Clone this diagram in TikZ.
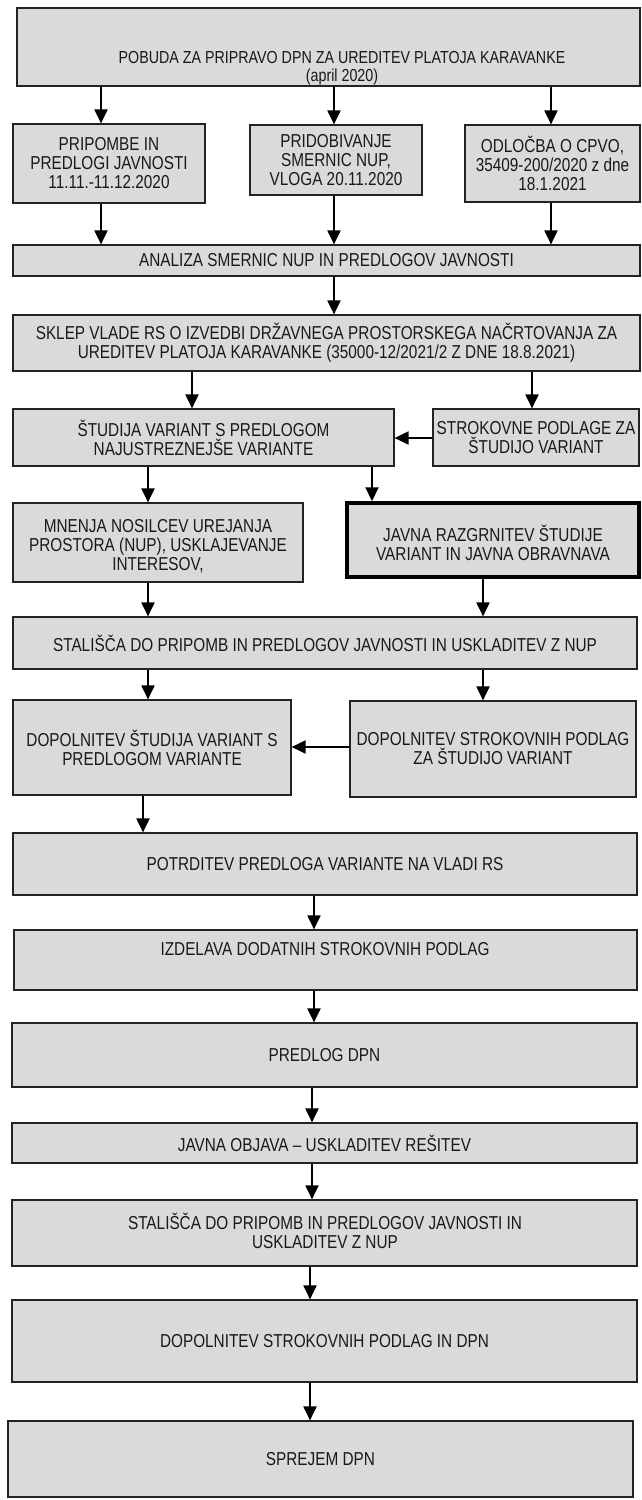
\documentclass[tikz,border=0pt]{standalone}
\usepackage{fontspec}
\setmainfont[FakeStretch=0.82]{Liberation Sans}
\usetikzlibrary{arrows.meta}
\definecolor{boxfill}{RGB}{218,218,218}
\definecolor{boxline}{RGB}{35,35,35}
\tikzset{
  box/.style={draw=boxline, fill=boxfill, line width=1.2pt, inner sep=0pt, rectangle},
  thickbox/.style={line width=3.5pt, draw=black},
  txt/.style={font=\fontsize{18.7}{19}\selectfont, align=center, inner sep=0pt, text=black!90},
  toptxt/.style={txt, font=\fontsize{17.4}{17.5}\selectfont},
  arr/.style={line width=2pt, -{Triangle[length=14pt,width=13pt]}},
}
\newcommand{\bx}[6][]{%
  \pgfmathsetmacro\bxcx{(#3+#5)/2}%
  \pgfmathsetmacro\bxcy{(#4+#6)/2}%
  \pgfmathsetmacro\bxw{#5-#3}%
  \pgfmathsetmacro\bxh{#6-#4}%
  \node[box,#1,minimum width=\bxw pt,minimum height=\bxh pt] (#2) at (\bxcx,\bxcy) {};%
}
\begin{document}
\begin{tikzpicture}[x=1pt,y=-1pt]
\useasboundingbox (0,0) rectangle (642,1500);
% boxes
\bx{top}{17}{8}{640}{86}
\bx{b1}{13}{124}{205}{203}
\bx{b2}{250}{125}{422}{195}
\bx{b3}{465}{125}{640}{202}
\bx{analiza}{13}{245}{640}{276}
\bx{sklep}{13}{315}{640}{371}
\bx{studija}{13}{409}{394}{466}
\bx{strok}{433}{409}{639}{466}
\bx{mnenja}{13}{503}{303}{582}
\bx[thickbox]{javna}{347}{503}{639}{577}
\bx{stal1}{13}{617}{637}{669}
\bx{dopL}{13}{700}{291}{795}
\bx{dopR}{350}{701}{636}{797}
\bx{potrd}{13}{833}{637}{895}
\bx{izdel}{14}{930}{637}{990}
\bx{predlog}{12}{1023}{637}{1087}
\bx{objava}{12}{1123}{637}{1163}
\bx{stal2}{12}{1200}{637}{1266}
\bx{dop2}{12}{1300}{637}{1382}
\bx{sprejem}{8}{1421}{633}{1497}
% texts
\node[toptxt] (t-top) at (342,68) {POBUDA ZA PRIPRAVO DPN ZA UREDITEV PLATOJA KARAVANKE\\(april 2020)};
\node[txt] (t-b1) at (b1.center) {PRIPOMBE IN\\PREDLOGI JAVNOSTI\\11.11.-11.12.2020};
\node[txt] (t-b2) at (b2.center) {PRIDOBIVANJE\\SMERNIC NUP,\\VLOGA 20.11.2020};
\node[txt] (t-b3) at (b3.center) {ODLOČBA O CPVO,\\35409-200/2020 z dne\\18.1.2021};
\node[txt] (t-analiza) at (analiza.center) {ANALIZA SMERNIC NUP IN PREDLOGOV JAVNOSTI};
\node[txt] (t-sklep) at (sklep.center) {SKLEP VLADE RS O IZVEDBI DRŽAVNEGA PROSTORSKEGA NAČRTOVANJA ZA\\UREDITEV PLATOJA KARAVANKE (35000-12/2021/2 Z DNE 18.8.2021)};
\node[txt] (t-studija) at (studija.center) {ŠTUDIJA VARIANT S PREDLOGOM\\NAJUSTREZNEJŠE VARIANTE};
\node[txt] (t-strok) at (strok.center) {STROKOVNE PODLAGE ZA\\ŠTUDIJO VARIANT};
\node[txt] (t-mnenja) at ([yshift=-4pt]mnenja.center) {MNENJA NOSILCEV UREJANJA\\PROSTORA (NUP), USKLAJEVANJE\\INTERESOV,};
\node[txt] (t-javna) at ([yshift=-3pt]javna.center) {JAVNA RAZGRNITEV ŠTUDIJE\\VARIANT IN JAVNA OBRAVNAVA};
\node[txt] (t-stal1) at (stal1.center) {STALIŠČA DO PRIPOMB IN PREDLOGOV JAVNOSTI IN USKLADITEV Z NUP};
\node[txt] (t-dopL) at (dopL.center) {DOPOLNITEV ŠTUDIJA VARIANT S\\PREDLOGOM VARIANTE};
\node[txt] (t-dopR) at (dopR.center) {DOPOLNITEV STROKOVNIH PODLAG\\ZA ŠTUDIJO VARIANT};
\node[txt] (t-potrd) at (potrd.center) {POTRDITEV PREDLOGA VARIANTE NA VLADI RS};
\node[txt] (t-izdel) at (325,949) {IZDELAVA DODATNIH STROKOVNIH PODLAG};
\node[txt] (t-predlog) at (predlog.center) {PREDLOG DPN};
\node[txt] (t-objava) at (objava.center) {JAVNA OBJAVA – USKLADITEV REŠITEV};
\node[txt] (t-stal2) at (325,1231) {STALIŠČA DO PRIPOMB IN PREDLOGOV JAVNOSTI IN\\USKLADITEV Z NUP};
\node[txt] (t-dop2) at (dop2.center) {DOPOLNITEV STROKOVNIH PODLAG IN DPN};
\node[txt] (t-sprejem) at (sprejem.center) {SPREJEM DPN};
% arrow columns
\coordinate (c100) at (101,0);
\coordinate (c334) at (334,0);
\coordinate (c551) at (551,0);
\coordinate (c192) at (192,0);
\coordinate (c532) at (532,0);
\coordinate (c148) at (148,0);
\coordinate (c372) at (372,0);
\coordinate (c483) at (483,0);
\coordinate (c143) at (143,0);
\coordinate (c314) at (314,0);
\coordinate (c312) at (312,0);
\coordinate (c310) at (310,0);
\coordinate (r438) at (0,438);
\coordinate (r747) at (0,747);
% arrows
\draw[arr] (top.south -| c100) -- (b1.north -| c100);
\draw[arr] (top.south -| c334) -- (b2.north -| c334);
\draw[arr] (top.south -| c551) -- (b3.north -| c551);
\draw[arr] (b1.south -| c100) -- (analiza.north -| c100);
\draw[arr] (b2.south -| c334) -- (analiza.north -| c334);
\draw[arr] (b3.south -| c551) -- (analiza.north -| c551);
\draw[arr] (analiza.south -| c334) -- (sklep.north -| c334);
\draw[arr] (sklep.south -| c192) -- (studija.north -| c192);
\draw[arr] (sklep.south -| c532) -- (strok.north -| c532);
\draw[arr] (strok.west |- r438) -- (studija.east |- r438);
\draw[arr] (studija.south -| c148) -- (mnenja.north -| c148);
\draw[arr] (studija.south -| c372) -- (javna.north -| c372);
\draw[arr] (mnenja.south -| c148) -- (stal1.north -| c148);
\draw[arr] (javna.south -| c483) -- (stal1.north -| c483);
\draw[arr] (stal1.south -| c148) -- (dopL.north -| c148);
\draw[arr] (stal1.south -| c483) -- (dopR.north -| c483);
\draw[arr] (dopR.west |- r747) -- (dopL.east |- r747);
\draw[arr] (dopL.south -| c143) -- (potrd.north -| c143);
\draw[arr] (potrd.south -| c314) -- (izdel.north -| c314);
\draw[arr] (izdel.south -| c314) -- (predlog.north -| c314);
\draw[arr] (predlog.south -| c312) -- (objava.north -| c312);
\draw[arr] (objava.south -| c312) -- (stal2.north -| c312);
\draw[arr] (stal2.south -| c310) -- (dop2.north -| c310);
\draw[arr] (dop2.south -| c310) -- (sprejem.north -| c310);
\end{tikzpicture}
\end{document}
